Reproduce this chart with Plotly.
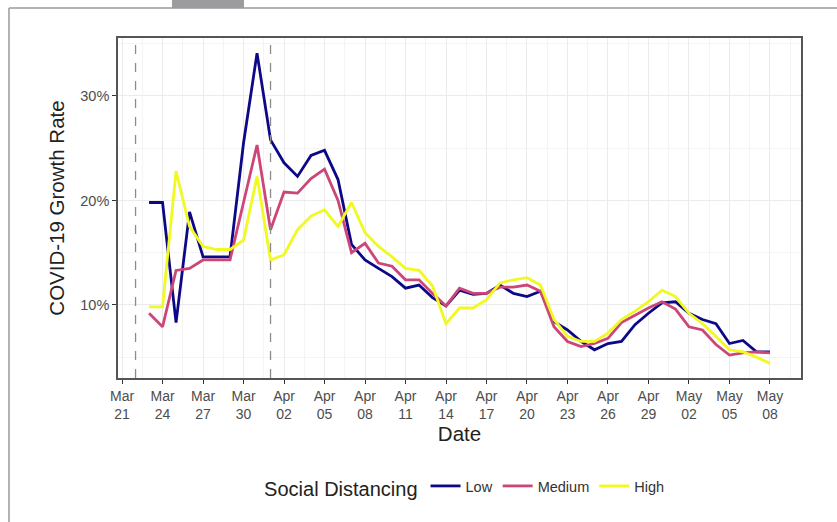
import plotly.graph_objects as go
import pandas as pd

dates = pd.date_range("2020-03-23", "2020-05-08", freq="D")

low = [19.8, 19.8, 8.3, 18.9, 14.6, 14.6, 14.6, 25.5, 34.1,
       25.8, 23.6, 22.3, 24.3, 24.8, 22.0, 15.8, 14.3, 13.5, 12.7,
       11.6, 11.9, 10.7, 9.9, 11.4, 11.0, 11.1, 11.9, 11.1, 10.8,
       11.3, 8.4, 7.6, 6.5, 5.7, 6.3, 6.5, 8.1, 9.2, 10.2,
       10.3, 9.2, 8.6, 8.2, 6.3, 6.6, 5.5, 5.5]
medium = [9.2, 7.9, 13.3, 13.5, 14.3, 14.3, 14.3, 19.8, 25.3,
          17.2, 20.8, 20.7, 22.1, 23.0, 20.0, 15.0, 15.9, 14.0, 13.7,
          12.4, 12.4, 11.1, 9.9, 11.6, 11.1, 11.1, 11.7, 11.7, 11.9,
          11.3, 7.9, 6.5, 6.0, 6.3, 6.8, 8.3, 9.0, 9.7, 10.3,
          9.6, 7.9, 7.6, 6.2, 5.2, 5.4, 5.5, 5.4]
high = [9.8, 9.8, 22.8, 17.5, 15.6, 15.3, 15.3, 16.2, 22.3,
        14.3, 14.8, 17.2, 18.5, 19.1, 17.5, 19.8, 16.9, 15.6, 14.6,
        13.5, 13.3, 11.8, 8.2, 9.7, 9.7, 10.5, 12.1, 12.4, 12.6,
        11.9, 8.6, 7.0, 6.5, 6.5, 7.3, 8.6, 9.4, 10.3, 11.4,
        10.8, 9.2, 8.2, 7.0, 5.7, 5.5, 5.0, 4.4]

series_names = ["Low", "Medium", "High"]
series_colors = ["#0D0887", "#CC4678", "#F0F921"]

tick_dates = pd.date_range("2020-03-21", "2020-05-08", freq="3D")
tick_text = [d.strftime("%b<br>%d") for d in tick_dates]
y_ticks = [10, 20, 30]
y_ticktext = ["10%", "20%", "30%"]
event_dates = ["2020-03-22", "2020-04-01"]

fig = go.Figure()
for name, vals, col in zip(series_names, [low, medium, high], series_colors):
    fig.add_trace(go.Scatter(x=dates, y=vals, mode="lines", name=name,
                             line=dict(color=col, width=2.8)))

for d in event_dates:
    fig.add_shape(type="line", x0=d, x1=d, y0=0, y1=1, xref="x", yref="paper",
                  line=dict(color="#8c8c8c", width=1.3, dash="dash"), layer="above")

# outer frame (top and left border) and tab
fig.add_shape(type="line", xref="paper", yref="paper", x0=-0.1596, x1=1.06,
              y0=1.088, y1=1.088, line=dict(color="#9a9a9a", width=1.5))
fig.add_shape(type="line", xref="paper", yref="paper", x0=-0.1596, x1=-0.1596,
              y0=1.088, y1=-0.5, line=dict(color="#9a9a9a", width=1.5))
fig.add_shape(type="rect", xref="paper", yref="paper", x0=0.0791, x1=0.1845,
              y0=1.088, y1=1.12, fillcolor="#9c9c9e", line=dict(width=0))

x0 = pd.Timestamp("2020-03-23") - pd.Timedelta(hours=2.3 * 24)
x1 = pd.Timestamp("2020-05-08") + pd.Timedelta(hours=2.3 * 24)

fig.update_layout(
    width=837, height=522,
    margin=dict(l=118, r=36, t=38, b=144),
    paper_bgcolor="white", plot_bgcolor="white",
    font=dict(family="Liberation Sans, Arial, sans-serif", color="#222"),
    showlegend=True,
    legend=dict(orientation="h", x=0.211, xanchor="left", y=-0.3235, yanchor="middle",
                title=dict(text="Social Distancing", side="left",
                           font=dict(size=20, color="#222")),
                font=dict(size=14.5, color="#333"), itemwidth=30),
    xaxis=dict(range=[x0, x1], type="date",
               tickvals=tick_dates, ticktext=tick_text,
               tickfont=dict(size=14, color="#4d4d4d"),
               ticks="outside", ticklen=4, tickcolor="#333", tickwidth=1.2,
               showgrid=True, gridcolor="#ebebeb", gridwidth=1.1,
               minor=dict(dtick=1.5 * 86400000, tick0="2020-03-22 12:00",
                          showgrid=True, gridcolor="#f4f4f4", gridwidth=0.6),
               showline=True, linecolor="#555", linewidth=1.6, mirror=True,
               zeroline=False,
               title=dict(text="Date", font=dict(size=20.5, color="#222"), standoff=5)),
    yaxis=dict(range=[3.0, 35.55], tickvals=y_ticks, ticktext=y_ticktext,
               tickfont=dict(size=14.5, color="#4d4d4d"),
               ticks="outside", ticklen=4, tickcolor="#333", tickwidth=1.2,
               showgrid=True, gridcolor="#ebebeb", gridwidth=1.1,
               minor=dict(dtick=10, tick0=5, showgrid=True,
                          gridcolor="#f4f4f4", gridwidth=0.6),
               showline=True, linecolor="#555", linewidth=1.6, mirror=True,
               zeroline=False,
               title=dict(text="COVID-19 Growth Rate", font=dict(size=20.5, color="#222"),
                          standoff=10)),
)

fig.write_html("out.html", config={"displayModeBar": False},
               post_script="document.body.style.margin='0';")
